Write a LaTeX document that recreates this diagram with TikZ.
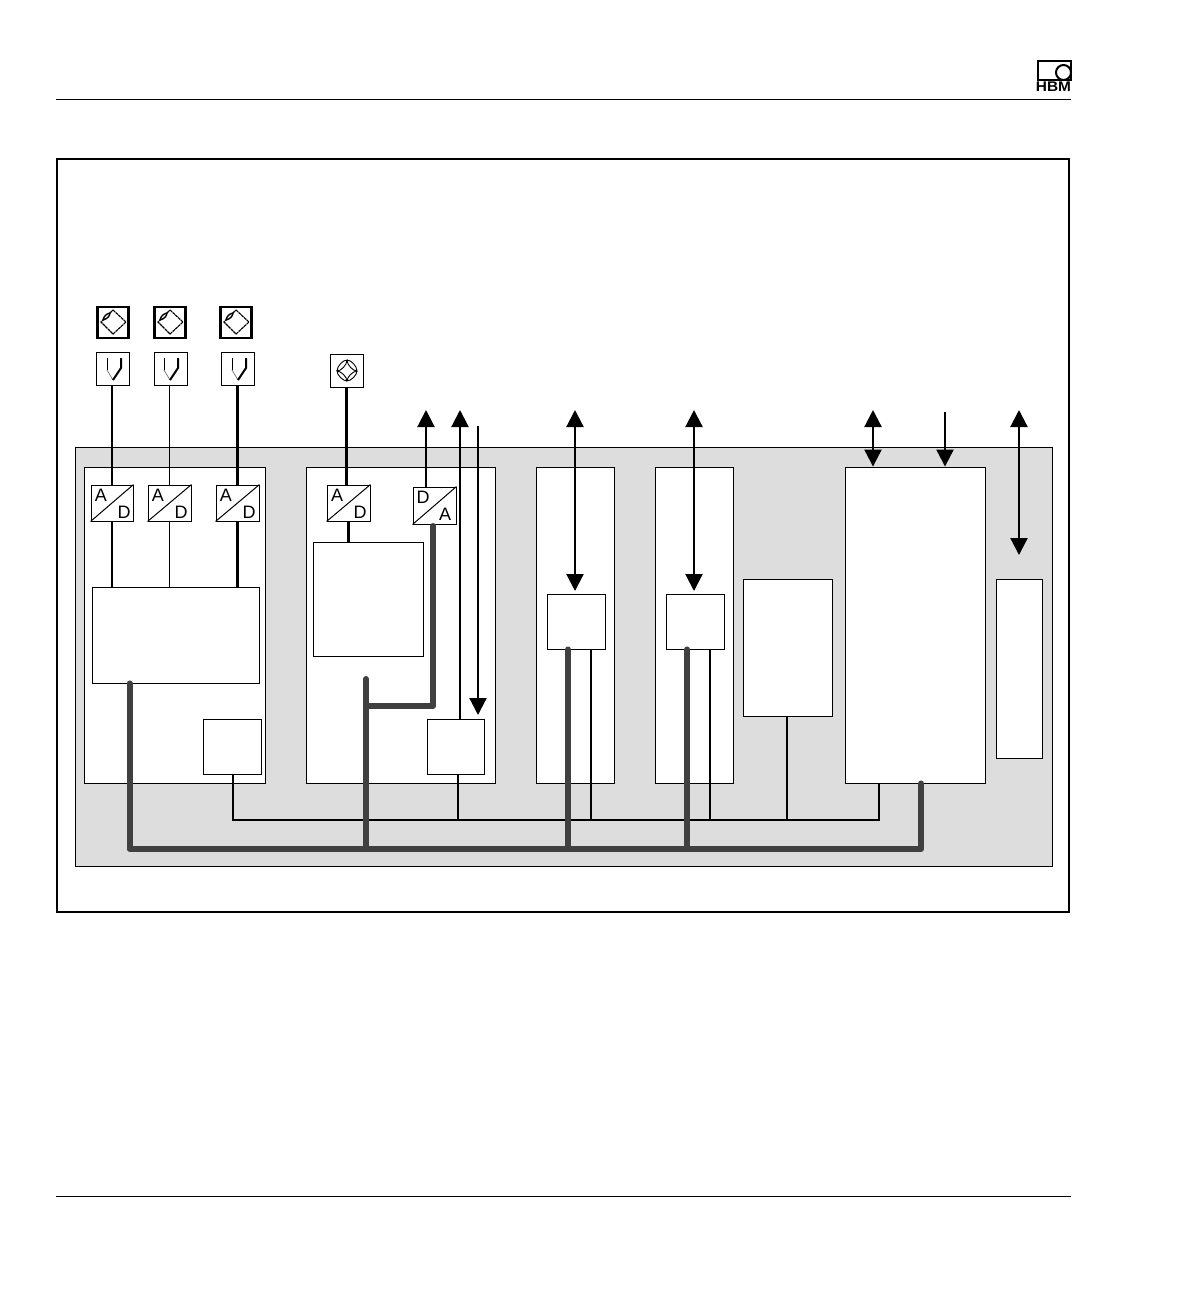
\documentclass[tikz,border=0pt]{standalone}
\usepackage{fontspec}
\setmainfont{Liberation Sans}
\usetikzlibrary{arrows.meta}
\definecolor{panelgrey}{HTML}{DDDDDD}
\definecolor{busgrey}{HTML}{404040}
\tikzset{
  box/.style={draw=black, fill=white, line width=0.9pt, inner sep=0pt},
  sensbox/.style={box, line width=2.8pt, minimum size=31pt},
  convbox/.style={box, minimum width=42pt, minimum height=36pt},
  letter/.style={inner sep=0pt, font=\fontsize{18}{18}\selectfont},
  wire/.style={line width=1.2pt},
  wirethick/.style={line width=2.2pt},
  bus/.style={line width=6pt, draw=busgrey, line cap=round, line join=round},
  arrowup/.style={line width=2.2pt, -{Triangle[length=17pt,width=17pt]}},
  arrowboth/.style={line width=2.2pt, {Triangle[length=17pt,width=17pt]}-{Triangle[length=17pt,width=17pt]}},
  bridgearm/.style={line width=0.9pt, fill=white},
  sensline/.style={line width=1.1pt, dash pattern=on 3pt off 0.6pt}
}
\begin{document}
\begin{tikzpicture}[x=1pt, y=-1pt]
    \useasboundingbox (0,0) rectangle (1191,1304);

    % Kopf- und Fusslinie
    \draw[line width=1pt] (56,99) -- (1071,99);
    \draw[line width=1pt] (56,1196) -- (1071,1196);

    % Logo
    \draw[line width=2pt] (1038,61) rectangle (1071,80);
    \node[draw=black, fill=white, circle, line width=2pt, minimum size=15pt, inner sep=0pt] (logoring) at (1063.5,72.5) {};
    \node[inner sep=0pt, font=\fontsize{14}{14}\selectfont\bfseries] (logotext) at (1053.5,86.5) {\scalebox{1.1}[1]{HBM}};

    % Rahmen und Gehaeuse
    \draw[line width=2pt] (57,159) rectangle (1069,912);
    \draw[fill=panelgrey, line width=1pt] (75,447) rectangle (1052,866);

    % Einschuebe
    \node[box, minimum width=181pt, minimum height=316pt] (modA) at (174.5,625) {};
    \node[box, minimum width=189pt, minimum height=316pt] (modB) at (400.5,625) {};
    \node[box, minimum width=78pt, minimum height=316pt] (modC) at (575,625) {};
    \node[box, minimum width=78pt, minimum height=316pt] (modD) at (694,625) {};
    \node[box, minimum width=140pt, minimum height=316pt] (modE) at (915,625) {};
    \node[box, minimum width=89pt, minimum height=137pt] (power) at (787.5,647.5) {};
    \node[box, minimum width=46pt, minimum height=179pt] (display) at (1019,668.5) {};

    % Innere Bloecke
    \node[box, minimum width=167pt, minimum height=96pt] (procA) at (175.5,635) {};
    \node[box, minimum width=110pt, minimum height=114pt] (procB) at (368,599) {};
    \node[box, minimum width=58pt, minimum height=55pt] (ctrlA) at (232,746.5) {};
    \node[box, minimum width=57pt, minimum height=55pt] (ctrlB) at (455.5,746.5) {};
    \node[box, minimum width=58pt, minimum height=55pt] (portC) at (576,621.5) {};
    \node[box, minimum width=58pt, minimum height=55pt] (portD) at (695,621.5) {};

    % Wandler
    \node[convbox] (adA) at (112,503) {};
    \node[convbox, minimum width=43pt] (adB) at (169.5,503) {};
    \node[convbox, minimum width=43pt] (adC) at (237.5,503) {};
    \node[convbox, minimum width=43pt] (adD) at (348.5,503) {};
    \node[convbox, minimum width=43pt, minimum height=37pt] (daA) at (434.5,505.5) {};
    \draw[line width=1pt] (adA.south west) -- (adA.north east);
    \draw[line width=1pt] (adB.south west) -- (adB.north east);
    \draw[line width=1pt] (adC.south west) -- (adC.north east);
    \draw[line width=1pt] (adD.south west) -- (adD.north east);
    \draw[line width=1pt] (daA.south west) -- (daA.north east);
    \node[letter] (adAa) at (101,495.5) {A};
    \node[letter] (adAd) at (124,512.5) {D};
    \node[letter] (adBa) at (158,495.5) {A};
    \node[letter] (adBd) at (181,512.5) {D};
    \node[letter] (adCa) at (226,495.5) {A};
    \node[letter] (adCd) at (249,512.5) {D};
    \node[letter] (adDa) at (337,495.5) {A};
    \node[letter] (adDd) at (360,512.5) {D};
    \node[letter] (daAd) at (423,497) {D};
    \node[letter] (daAa) at (445,514.5) {A};

    % Aufnehmer-Symbole
    \node[sensbox] (sensA) at (113,322.5) {};
    \node[sensbox] (sensB) at (170,322.5) {};
    \node[sensbox] (sensC) at (236,322.5) {};
    \draw[sensline] (113,310) -- (126,322) -- (113,334) -- (101,322) -- cycle;
    \draw[sensline] (170,310) -- (183,322) -- (170,334) -- (158,322) -- cycle;
    \draw[sensline] (236,310) -- (249,322) -- (236,334) -- (224,322) -- cycle;
    \draw[line width=1.4pt, fill=white] (103,320) .. controls (104,316) and (106,314) .. (110,313) .. controls (110,316) and (107,319) .. (103,320);
    \draw[line width=1.4pt, fill=white] (160,320) .. controls (161,316) and (163,314) .. (167,313) .. controls (167,316) and (164,319) .. (160,320);
    \draw[line width=1.4pt, fill=white] (226,320) .. controls (227,316) and (229,314) .. (233,313) .. controls (233,316) and (230,319) .. (226,320);

    % Thermoelemente
    \node[box, minimum size=33pt] (thermA) at (113,368.5) {};
    \node[box, minimum size=33pt] (thermB) at (170.5,368.5) {};
    \node[box, minimum size=33pt] (thermC) at (237.5,368.5) {};
    \draw[line width=1pt] (107,358) -- (107,370);
    \draw[line width=0.8pt, gray] (107,370) -- (113,380);
    \draw[line width=2pt] (121,358) -- (121,368) -- (113,380);
    \draw[line width=1pt] (164,358) -- (164,370);
    \draw[line width=0.8pt, gray] (164,370) -- (170,380);
    \draw[line width=2pt] (178,358) -- (178,368) -- (170,380);
    \draw[line width=1pt] (232,358) -- (232,370);
    \draw[line width=0.8pt, gray] (232,370) -- (238,380);
    \draw[line width=2pt] (246,358) -- (246,368) -- (238,380);

    % Vollbruecke
    \node[box, minimum size=33pt] (bridge) at (346.5,370.5) {};
    \draw[bridgearm] (347,360) .. controls (351,360) and (357,366) .. (357,371) .. controls (353,371) and (347,365) .. (347,360);
    \draw[bridgearm] (357,371) .. controls (357,375) and (351,381) .. (347,381) .. controls (347,377) and (353,371) .. (357,371);
    \draw[bridgearm] (347,381) .. controls (343,381) and (337,375) .. (337,371) .. controls (341,371) and (347,377) .. (347,381);
    \draw[bridgearm] (337,371) .. controls (337,366) and (343,360) .. (347,360) .. controls (347,365) and (341,371) .. (337,371);

    % Signalleitungen
    \draw[wirethick] (thermA.south -| adA.north) -- (adA.north);
    \draw[wire] (thermB.south -| adB.north) -- (adB.north);
    \draw[wirethick] (thermC.south -| adC.north) -- (adC.north);
    \draw[wirethick] (bridge.south) -- (bridge.south |- adD.north);
    \draw[wirethick] (adA.south) -- (adA.south |- procA.north);
    \draw[wire] (adB.south) -- (adB.south |- procA.north);
    \draw[wirethick] (adC.south) -- (adC.south |- procA.north);
    \draw[wirethick] (adD.south) -- (adD.south |- procB.north);

    % Pfeile
    \coordinate (outDA) at (426,410);
    \coordinate (outCB) at (460,410);
    \coordinate (inCBt) at (478,426);
    \coordinate (inCB) at (478,715);
    \coordinate (extC) at (575,410);
    \coordinate (extD) at (694,410);
    \coordinate (extE) at (873,410);
    \coordinate (inEt) at (945,412);
    \coordinate (extF) at (1019,410);
    \coordinate (extFb) at (1019,555);
    \draw[arrowup] (outDA |- daA.north) -- (outDA);
    \draw[arrowup] (outCB |- ctrlB.north) -- (outCB);
    \draw[arrowup] (inCBt) -- (inCB);
    \draw[arrowboth] (extC) -- (575,591);
    \draw[arrowboth] (extD) -- (694,591);
    \draw[arrowboth] (extE) -- (extE |- modE.north);
    \draw[arrowup] (inEt) -- (inEt |- modE.north);
    \draw[arrowboth] (extF) -- (extFb);

    % Steuerbus
    \coordinate (ctlA) at (233,820);
    \coordinate (ctlB) at (458,820);
    \coordinate (ctlC) at (591,820);
    \coordinate (ctlD) at (710,820);
    \coordinate (ctlP) at (787,820);
    \coordinate (ctlE) at (879,820);
    \draw[wire] (ctlA |- ctrlA.south) -- (ctlA) -- (ctlE) -- (ctlE |- modE.south);
    \draw[wire] (ctlB |- ctrlB.south) -- (ctlB);
    \draw[wire] (ctlC |- portC.south) -- (ctlC);
    \draw[wire] (ctlD |- portD.south) -- (ctlD);
    \draw[wire] (power.south -| ctlP) -- (ctlP);

    % Datenbus
    \coordinate (datA) at (129.5,849);
    \coordinate (datB) at (366,849);
    \coordinate (datC) at (568,849);
    \coordinate (datD) at (687,849);
    \coordinate (datE) at (921,849);
    \coordinate (datBr) at (366,706);
    \coordinate (datBt) at (366,679);
    \draw[bus] (datA |- procA.south) -- (datA) -- (datE) -- (datE |- modE.south);
    \draw[bus] (datBt) -- (datB);
    \draw[bus] (datBr) -- (433,706) -- (433,526);
    \draw[bus] (datC |- portC.south) -- (datC);
    \draw[bus] (datD |- portD.south) -- (datD);
\end{tikzpicture}
\end{document}
